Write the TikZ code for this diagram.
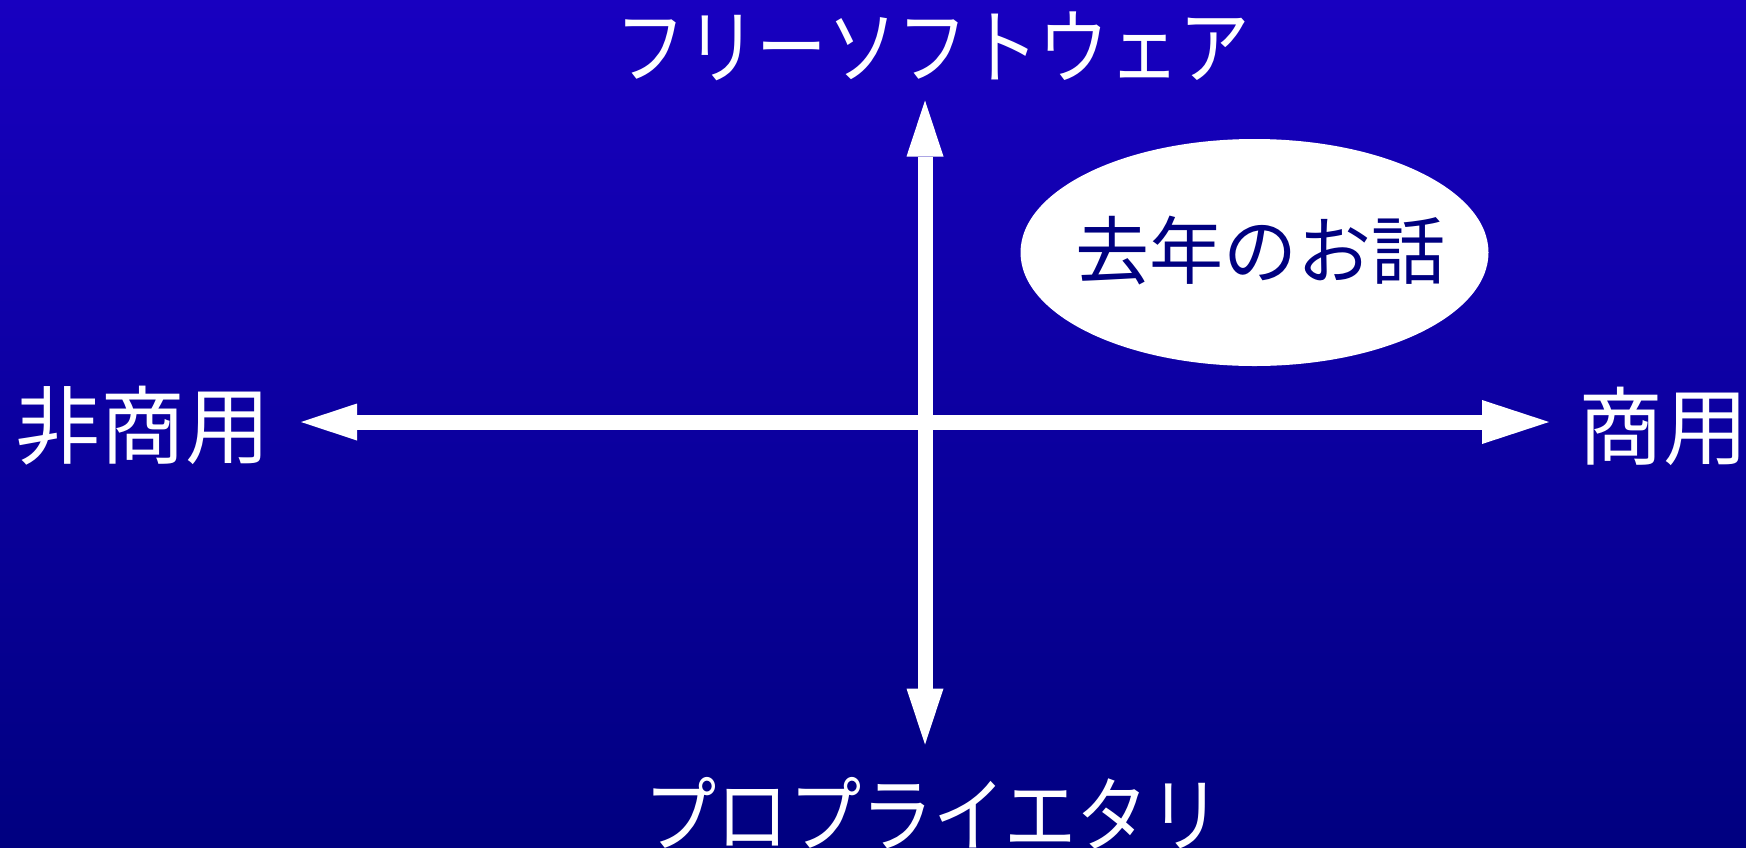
\documentclass[tikz,border=0pt]{standalone}
\usepackage{fontspec}
\usepackage{graphicx}
\newfontfamily\jp{Noto Sans CJK JP}
\usetikzlibrary{arrows.meta,shapes.geometric}
\definecolor{bgtop}{RGB}{24,0,192}
\definecolor{bgbot}{RGB}{0,0,128}
\definecolor{navytext}{RGB}{0,0,128}
\newcommand{\kana}[2][0.86]{\scalebox{#1}[1]{#2}}
\begin{document}
\begin{tikzpicture}[x=1pt,y=-1pt,
  kanalabel/.style={text=white,font=\jp\fontsize{82}{82}\selectfont,inner sep=0pt},
  kanjilabel/.style={text=white,font=\jp\fontsize{85}{85}\selectfont,inner sep=0pt},
  axisline/.style={white,line width=15pt},
]
\shade[top color=bgtop,bottom color=bgbot] (0,0) rectangle (1746,847);
\useasboundingbox (0,0) rectangle (1746,847);
\node[ellipse,fill=white,minimum width=468pt,minimum height=227pt,inner sep=0pt] (bubble) at (1254.5,252.5) {};
\node[text=navytext,font=\jp\fontsize{74}{74}\selectfont,inner sep=0pt] (bubbletext) at (1260.5,251) {去年のお話};
\coordinate (up) at (925,100.5);
\coordinate (down) at (925,744.5);
\coordinate (left) at (301,422);
\coordinate (right) at (1549,422);
\draw[axisline,{Triangle[length=56pt,width=37pt,line width=0pt]}-{Triangle[length=56pt,width=37pt,line width=0pt]}] (down) -- (up);
\draw[axisline,{Triangle[length=56pt,width=37pt,line width=0pt]}-{Triangle[length=67pt,width=44pt,line width=0pt]}] (left) -- (right);
\node[kanalabel] (free) at (933,46) {\kana{フリーソフトウェア}};
\node[kanalabel] (prop) at (933,813) {\kana[0.88]{プロプライエタリ}};
\node[kanjilabel] (noncom) at (142.6,426) {非商用};
\node[kanjilabel] (com) at (1663,426) {商用};
\end{tikzpicture}
\end{document}
